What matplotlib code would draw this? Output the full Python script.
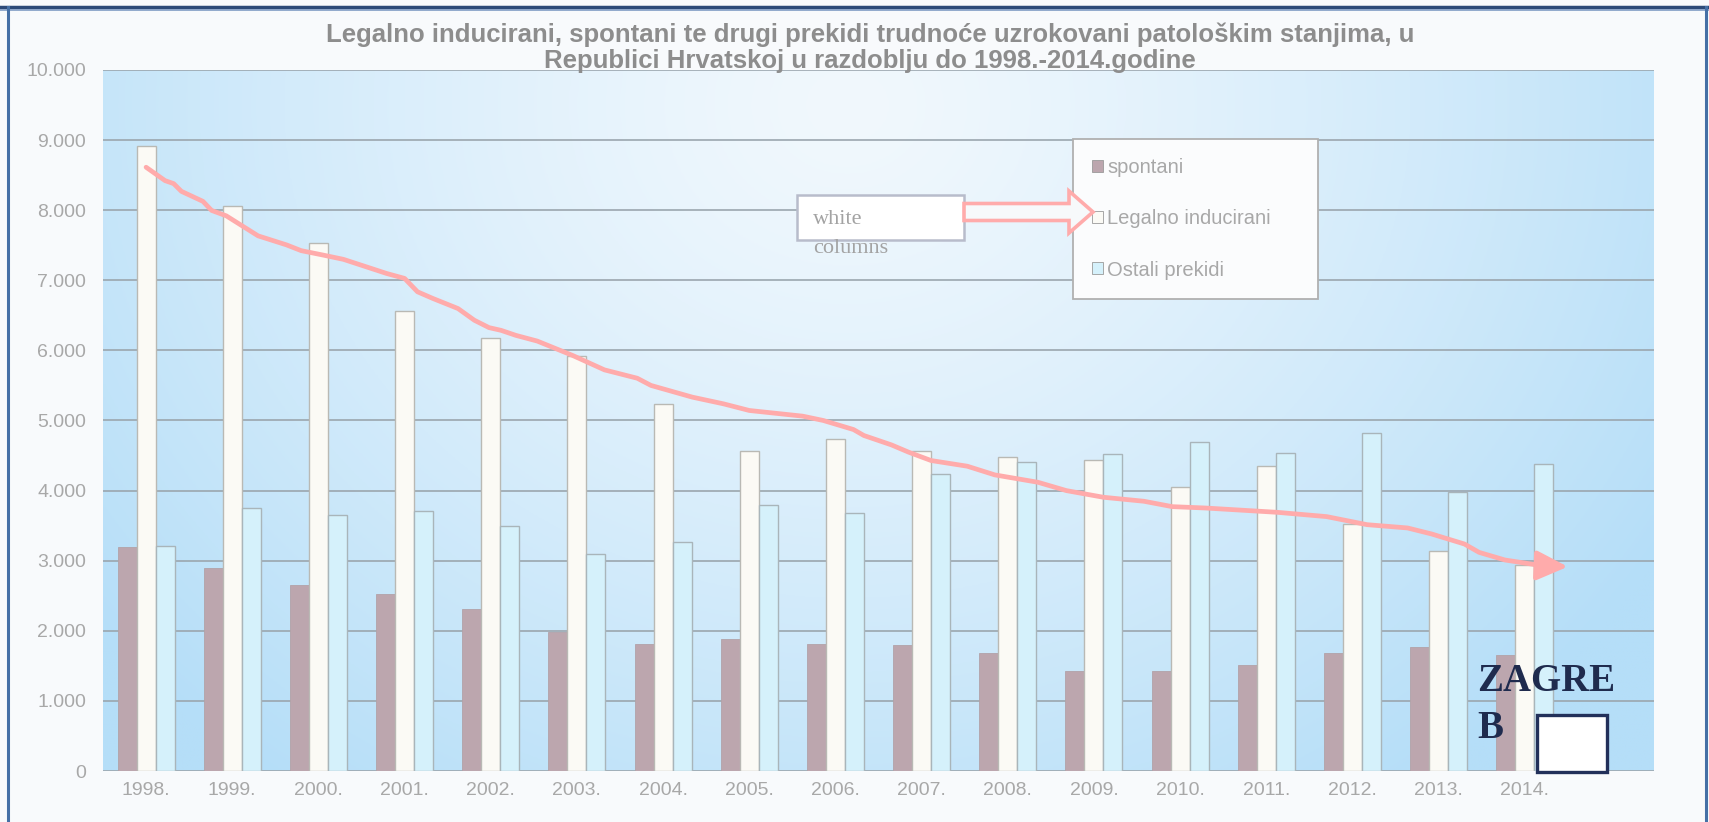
import matplotlib.pyplot as plt
import matplotlib as mpl
import numpy as np
from matplotlib.patches import Patch, Rectangle, FancyArrow, FancyArrowPatch

mpl.rcParams["font.family"] = ["Liberation Sans", "DejaVu Sans"]

# data ---------------------------------------------------------------------------------
years = ["1998.", "1999.", "2000.", "2001.", "2002.", "2003.", "2004.", "2005.", "2006.",
         "2007.", "2008.", "2009.", "2010.", "2011.", "2012.", "2013.", "2014."]
spontani = [3190, 2900, 2660, 2520, 2310, 1980, 1810, 1890, 1810, 1800, 1680, 1430,
            1430, 1510, 1690, 1770, 1660]
legalno = [8910, 8060, 7530, 6560, 6180, 5920, 5240, 4560, 4730, 4560, 4480, 4440,
           4050, 4350, 3530, 3140, 2940]
ostali = [3210, 3750, 3650, 3710, 3490, 3100, 3260, 3800, 3680, 4230, 4410, 4520,
          4700, 4530, 4820, 3980, 4380]
legend_labels = ["spontani", "Legalno inducirani", "Ostali prekidi"]
yticks = [0, 1000, 2000, 3000, 4000, 5000, 6000, 7000, 8000, 9000, 10000]
ytick_labels = ["0", "1.000", "2.000", "3.000", "4.000", "5.000", "6.000", "7.000",
                "8.000", "9.000", "10.000"]
title_lines = ["Legalno inducirani, spontani te drugi prekidi trudnoće uzrokovani patološkim stanjima, u",
               "Republici Hrvatskoj u razdoblju do 1998.-2014.godine"]

# hand drawn trend line (x in category units)
trend_x = [0.00, 0.22, 0.32, 0.41, 0.66, 0.76, 0.93, 1.30, 1.63, 1.80, 2.05, 2.29, 2.79,
           3.00, 3.15, 3.33, 3.62, 3.81, 3.98, 4.12, 4.29, 4.54, 4.95, 5.32, 5.70, 5.86,
           6.34, 6.70, 7.00, 7.62, 7.86, 8.21, 8.33, 8.65, 8.85, 9.11, 9.53, 9.85, 10.35,
           10.68, 11.11, 11.58, 11.91, 12.29, 13.13, 13.70, 14.17, 14.64, 14.92, 15.30,
           15.47, 15.77, 16.20]
trend_y = [8613, 8422, 8379, 8269, 8126, 7997, 7920, 7634, 7505, 7423, 7361, 7299, 7098,
           7027, 6836, 6740, 6597, 6430, 6325, 6286, 6215, 6133, 5928, 5722, 5603, 5500,
           5333, 5238, 5143, 5062, 5000, 4871, 4786, 4652, 4548, 4429, 4348, 4224, 4119,
           4000, 3905, 3848, 3771, 3752, 3690, 3629, 3514, 3467, 3381, 3238, 3119, 3010,
           2929]
trend_tip = (16.50, 2914)

c_spon = "#bca6ae"
c_leg = "#fbfaf5"
c_ost = "#d5f1fb"
pink = "#ffabab"
grey_txt = "#a8a8a8"

W, H = 1709, 822
fig = plt.figure(figsize=(W / 100, H / 100), dpi=100)
fig.patch.set_facecolor("#f8fafc")
# pixel coordinates, origin top-left
px = mpl.transforms.Affine2D().scale(0.01, -0.01).translate(0, H / 100) + fig.dpi_scale_trans

# slide frame
fig.add_artist(plt.Line2D([0, W], [7, 7], transform=px, color="#2c4a78", lw=2.5))
fig.add_artist(plt.Line2D([0, W], [10.5, 10.5], transform=px, color="#7f9cc4", lw=1.2))
fig.add_artist(plt.Line2D([8, 8], [7, H], transform=px, color="#4570a6", lw=2.2))
fig.add_artist(plt.Line2D([1706, 1706], [7, H], transform=px, color="#4570a6", lw=2.2))

ax = fig.add_axes([103 / W, 1 - 771 / H, 1551 / W, 701 / H])

# gradient background of plot area
gx, gy = np.meshgrid(np.linspace(0, 1, 400), np.linspace(0, 1, 250))
r = np.sqrt(((gx - 0.48) / 0.62) ** 2 + ((gy - 0.95) / 1.2) ** 2)
r = np.clip(r, 0, 1) ** 1.3
c0 = np.array(mpl.colors.to_rgb("#f1f8fd"))
c1 = np.array(mpl.colors.to_rgb("#b5def8"))
img = c0 + (c1 - c0) * r[..., None]
ax.imshow(img, extent=[0, 1, 0, 1], transform=ax.transAxes, origin="lower",
          aspect="auto", zorder=0)

x = np.arange(len(years))
bw = 0.22
ax.bar(x - bw, spontani, bw, color=c_spon, edgecolor="#b2a2a8", lw=0.6, zorder=2)
ax.bar(x, legalno, bw, color=c_leg, edgecolor="#b9b9b4", lw=1.0, zorder=2)
ax.bar(x + bw, ostali, bw, color=c_ost, edgecolor="#a9b5ba", lw=1.0, zorder=2)

ax.set_xlim(-0.5, 17.5)
ax.set_ylim(0, 10000)
ax.set_axisbelow(True)
ax.yaxis.grid(True, color="#9ba6ae", lw=1.2)
ax.set_yticks(yticks)
ax.set_yticklabels(ytick_labels)
ax.set_xticks(x)
ax.set_xticklabels(years)
ax.tick_params(length=0, colors=grey_txt, labelsize=14)
ax.tick_params(axis="y", pad=12)
ax.tick_params(axis="x", pad=8)
for s in ax.spines.values():
    s.set_visible(False)

# trend line drawn over the chart
ax.plot(trend_x, trend_y, color=pink, lw=3.4, solid_capstyle="round",
        solid_joinstyle="round", zorder=5)
ax.add_patch(FancyArrowPatch((trend_x[-1], trend_y[-1]), trend_tip,
                             arrowstyle=mpl.patches.ArrowStyle("-|>", head_length=1.9, head_width=0.9),
                             mutation_scale=10, color=pink, lw=3.4, shrinkA=0, shrinkB=0,
                             zorder=5))

# legend
handles = [Patch(facecolor=c, edgecolor="#9a9a9a", lw=0.6) for c in (c_spon, c_leg, c_ost)]
leg = ax.legend(handles, legend_labels, loc="upper left",
                bbox_to_anchor=(0.6254, 0.9016, 0.158, 0.0), mode="expand",
                fontsize=14.5, labelcolor=grey_txt, handlelength=0.55, handleheight=0.55,
                handletextpad=0.2, labelspacing=1.6, borderpad=0.95, borderaxespad=0,
                fancybox=False, framealpha=1, facecolor="#fbfcfd", edgecolor="#b0b0b0")
leg.get_frame().set_linewidth(1.3)
leg.set_zorder(6)

# "white columns" note and hollow arrow
fig.add_artist(Rectangle((797, 195), 167, 45, transform=px, facecolor="white",
                         edgecolor="#b8bccb", lw=1.8, zorder=7))
fig.text(813, 224, "white", transform=px, family="Liberation Serif",
         fontsize=16, color="#a3a3a3", va="baseline", zorder=8)
fig.text(813, 253, "columns", transform=px, family="Liberation Serif",
         fontsize=16, color="#a3a3a3", va="baseline", zorder=8)
fig.add_artist(FancyArrow(964, 212, 129, 0, width=17, head_width=42, head_length=24,
                          length_includes_head=True, transform=px, facecolor="#f7f9fb",
                          edgecolor=pink, lw=2.6, zorder=7))

# title
for line, base in zip(title_lines, [42, 68]):
    fig.text(870, base, line, transform=px, ha="center", va="baseline", fontsize=18.5,
             fontweight="bold", color="#8d8d8d")

# ZAGREB logo placeholder
for line, base in zip(["ZAGRE", "B"], [691, 738]):
    fig.text(1477, base, line, transform=px, family="Liberation Serif", fontweight="bold",
             fontsize=28, color="#1f2b4e", va="baseline", zorder=8)
fig.add_artist(Rectangle((1537, 715), 70, 57, transform=px, facecolor="white",
                         edgecolor="#22305a", lw=2.4, zorder=8))

fig.savefig("out.png", dpi=100, facecolor=fig.get_facecolor())
